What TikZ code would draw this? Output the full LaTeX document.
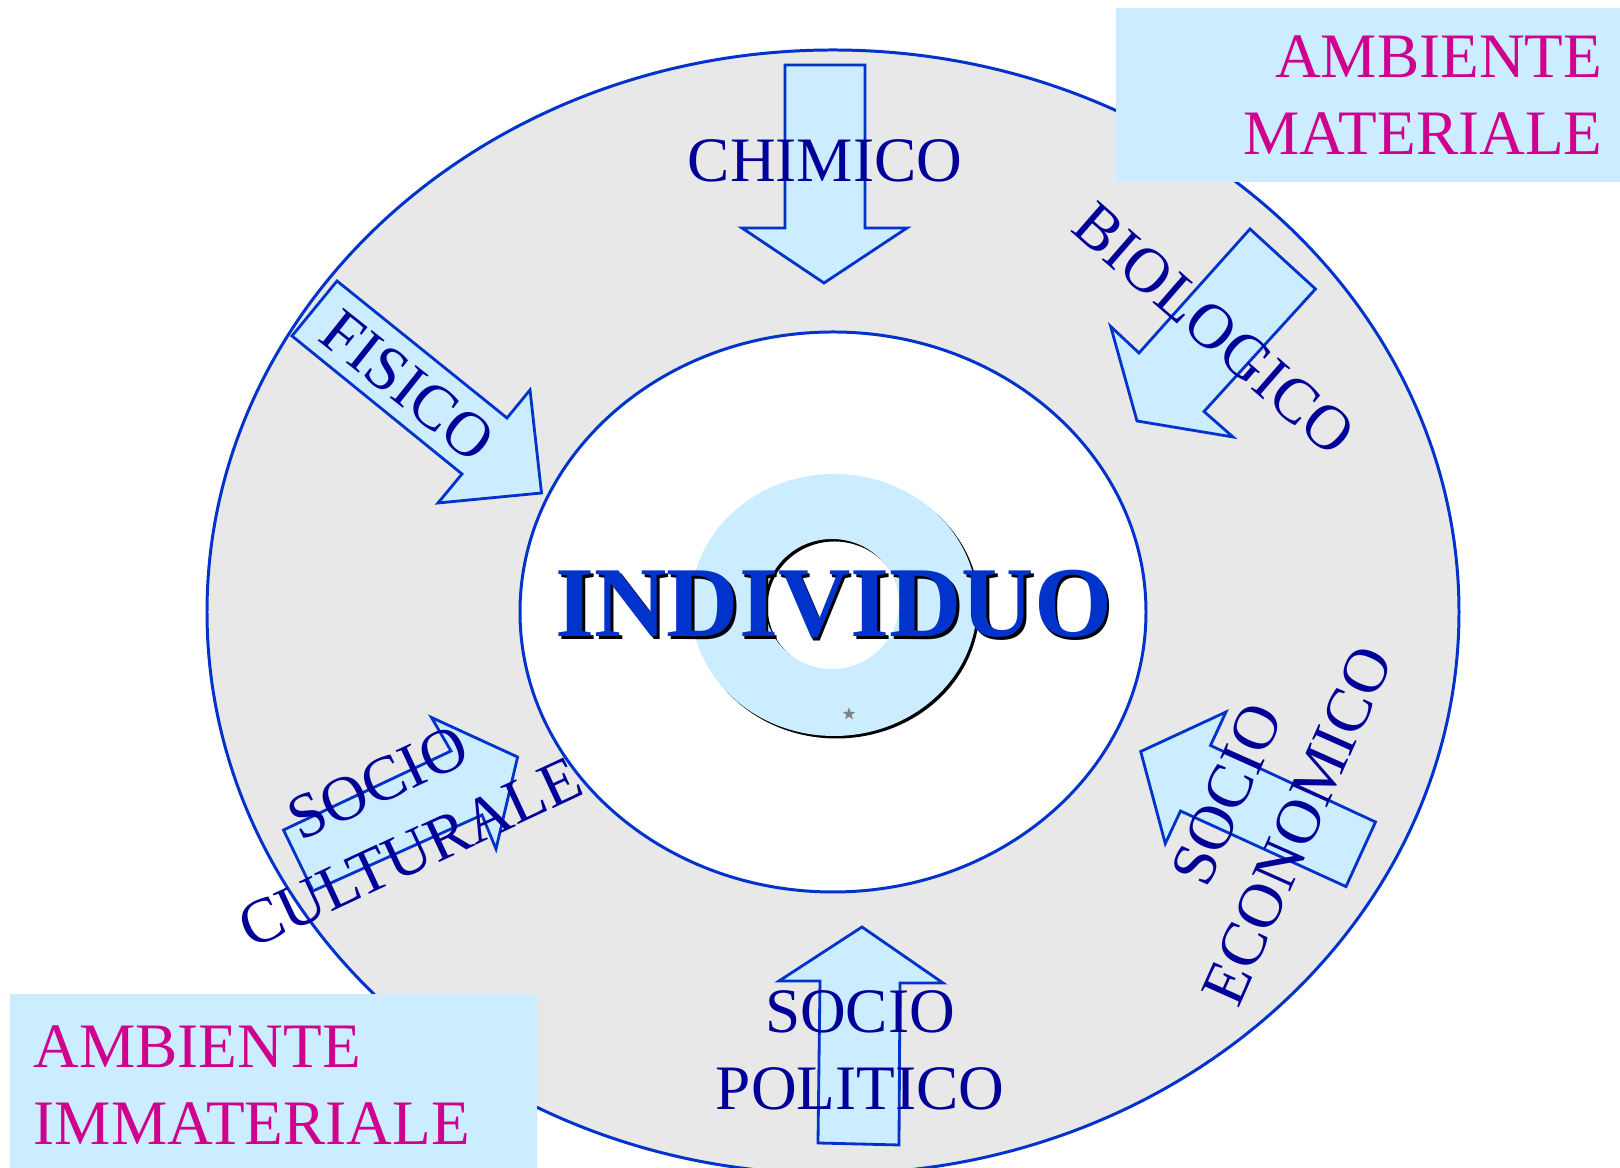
\documentclass[tikz,border=0pt]{standalone}
\usepackage{fontspec}
\setmainfont{Liberation Serif}
\usepackage{xcolor}
\usepackage{tikz}
\usetikzlibrary{shapes.geometric}
\definecolor{ringgray}{HTML}{E8E8E8}
\definecolor{edgeblue}{HTML}{0033CC}
\definecolor{paleblue}{HTML}{CCECFF}
\definecolor{navy}{HTML}{000099}
\definecolor{ambmagenta}{HTML}{D0008F}
\tikzstyle{ringline} = [draw=edgeblue, line width=0.85pt]
\tikzstyle{blockarrow} = [draw=edgeblue, fill=paleblue, line width=0.8pt, line join=miter]
\tikzstyle{factor} = [text=navy, font=\fontsize{18}{21.9}\selectfont, align=center, inner sep=0pt]
\tikzstyle{ambiente} = [text=ambmagenta, font=\fontsize{18}{21.9}\selectfont, inner sep=0pt]
\tikzstyle{bigname} = [anchor=base, font=\bfseries\fontsize{28.5}{31}\selectfont, inner sep=0pt]

\begin{document}
\begin{tikzpicture}[x=0.01cm, y=-0.01cm]
\useasboundingbox (0,0) rectangle (1620,1168);

% Rings
\filldraw [ringline, fill=ringgray] (833,612) ellipse [x radius=626, y radius=562];
\filldraw [ringline, fill=white] (833,612) ellipse [x radius=313, y radius=280];

% Individuo
\fill [black, even odd rule] (836.5,607.5) ellipse [x radius=143, y radius=131] (834.5,606.5) ellipse [x radius=67, y radius=65];
\fill [paleblue, even odd rule] (834,605) ellipse [x radius=143, y radius=131] (832,604) ellipse [x radius=67, y radius=65];
\node (star) [star, star points=5, star point ratio=2.4, fill=gray, inner sep=0pt, minimum size=0.13cm] at (849,714) {};
\node (shadow) [bigname, text=black] at (836.5,639.5) {INDIVIDUO};
\node (individuo) [bigname, text=edgeblue] at (834,637) {INDIVIDUO};

% Arrows
\draw [blockarrow] (785,65) -- (865,65) -- (865,228) -- (907,228) -- (824,283) -- (742,228) -- (785,228) -- cycle;
\draw [blockarrow] (337,281) -- (507,418) -- (530,390) -- (541.5,493) -- (438,503) -- (462,474) -- (292,336) -- cycle;
\draw [blockarrow] (1250,229) -- (1315.5,289) -- (1204,411.5) -- (1233,437) -- (1137,421) -- (1110.7,326.5) -- (1139,353) -- cycle;
\draw [blockarrow] (283.5,830) -- (451,751) -- (431.5,717.5) -- (517.6,757) -- (496,849) -- (482,815) -- (313,891) -- cycle;
\draw [blockarrow] (1140.7,751.5) -- (1226,712) -- (1210.5,745.5) -- (1375.5,822) -- (1346,886.6) -- (1180.5,811) -- (1165.3,843.6) -- cycle;
\draw [blockarrow] (862,927) -- (943,983) -- (900,983) -- (899,1145) -- (818,1143) -- (820,981) -- (779,981) -- cycle;

% Factors
\node (chimico) [factor, anchor=base] at (825,182) {CHIMICO};
\node (fisico) [factor, rotate=-38.5] at (408,386) {FISICO};
\node (biologico) [factor, rotate=-41] at (1214,329) {BIOLOGICO};
\node (culturale) [factor, rotate=25] at (394,818) {SOCIO\\CULTURALE};
\node (economico) [factor, rotate=66] at (1262,810) {SOCIO\\ECONOMICO};
\node (politico) [factor] at (860,1050) {SOCIO\\POLITICO};

% Ambiente
\fill [paleblue] (1116,8) rectangle (1620,182);
\node (materiale) [ambiente, anchor=north east, align=right] at (1603,35) {AMBIENTE\\MATERIALE};
\fill [paleblue] (10,994) rectangle (537,1168);
\node (immateriale) [ambiente, anchor=north west, align=left] at (33,1025) {AMBIENTE\\IMMATERIALE};

\end{tikzpicture}
\end{document}
